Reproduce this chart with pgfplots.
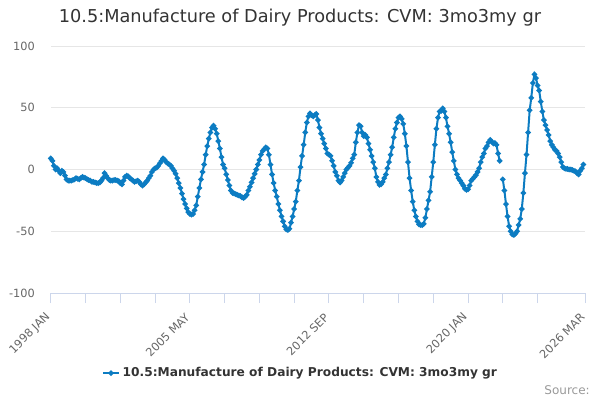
\documentclass[border=0pt]{standalone}
\usepackage{pgfplots}
\pgfplotsset{compat=1.18}
\usepackage{fontspec}
\setmainfont{DejaVu Sans}
\definecolor{linecol}{HTML}{0C7CC2}
\definecolor{gridcol}{HTML}{E6E6E6}
\definecolor{axiscol}{HTML}{CCD6EB}
\definecolor{titlecol}{HTML}{333333}
\definecolor{tickcol}{HTML}{666666}
\definecolor{srccol}{HTML}{999999}
\begin{document}
\begin{tikzpicture}
\path[use as bounding box] (0,0) rectangle (450pt,300pt);
\node[font=\fontsize{13.3pt}{15pt}\selectfont, text=titlecol] at (225pt,286.5pt) {10.5:Manufacture of Dairy Products: CVM: 3mo3my gr};
\node[font=\fontsize{9pt}{10pt}\selectfont, text=srccol, anchor=east, inner sep=0pt] at (442.5pt,7.5pt) {Source:};
\begin{axis}[
  at={(38.1pt,80.25pt)}, anchor=south west,
  scale only axis, width=400.65pt, height=185.25pt,
  xmin=0, xmax=338, ymin=-100, ymax=100,
  axis x line*=bottom, axis y line*=left,
  x axis line style={draw=axiscol, line width=0.75pt, -},
  y axis line style={draw=none},
  ytick={-100,-50,0,50,100},
  ytick style={draw=none},
  ymajorgrids, grid style={draw=gridcol, line width=0.75pt},
  xtick={0,88,176,264,338},
  xticklabels={1998 JAN,2005 MAY,2012 SEP,2020 JAN,2026 MAR},
  extra x ticks={22,44,66,110,132,154,198,220,242,286,308},
  extra x tick labels={},
  extra x tick style={grid=none},
  xtick style={draw=axiscol, line width=0.75pt},
  tick align=outside, major tick length=7.5pt,
  /pgf/number format/assume math mode=true,
  yticklabel style={font=\fontsize{8.5pt}{10pt}\selectfont, text=tickcol, anchor=east, xshift=-1pt},
  xticklabel style={font=\fontsize{8.5pt}{10pt}\selectfont, text=tickcol, xshift=0.6pt, yshift=-6.75pt, rotate=45, anchor=east},
  unbounded coords=jump,
  clip=false,
  legend style={at={(0.468,-0.324)}, anchor=center, draw=none, fill=none,
    font=\fontsize{9.15pt}{10pt}\selectfont\bfseries, text=titlecol},
  legend image code/.code={\draw[mark repeat=2,mark phase=2,line width=1.5pt] plot coordinates {(0pt,0pt)(6pt,0pt)(12pt,0pt)};},
]
\addplot[color=linecol, line width=1.5pt, mark=*, mark size=1.2pt, mark options={fill=linecol, draw=linecol}] table[x=m, y=v] {
m v
0 9
1 7
2 3
3 0
4 1
5 -1
6 -3
7 -1
8 -2
9 -5
10 -8
11 -9
12 -9
13 -9
14 -8.5
15 -8
16 -7
17 -7.5
18 -8
19 -7
20 -6
21 -6.5
22 -7
23 -8
24 -8.5
25 -9
26 -10
27 -10
28 -10.5
29 -11
30 -11
31 -10.5
32 -9
33 -7
34 -3
35 -5
36 -7
37 -8.5
38 -9
39 -9
40 -8.5
41 -8.5
42 -9
43 -9.5
44 -11
45 -12
46 -9
47 -6
48 -5
49 -5.5
50 -7
51 -8
52 -9
53 -10
54 -9.5
55 -9
56 -10
57 -12
58 -13
59 -12
60 -10.5
61 -9
62 -7
63 -5
64 -2
65 0
66 1
67 1.5
68 3
69 5
70 7
71 9
72 8
73 6
74 5
75 4
76 3
77 1
78 -1
79 -3.5
80 -7
81 -11
82 -15
83 -19.5
84 -24
85 -28
86 -31.5
87 -34.5
88 -36
89 -36.5
90 -36
91 -33
92 -29
93 -22
94 -15
95 -8
96 -2
97 4
98 12
99 19
100 25
101 30
102 34
103 35.5
104 33
105 29
106 23
107 17
108 10
109 4
110 1
111 -4
112 -8.5
113 -13
114 -17
115 -19
116 -19.5
117 -20
118 -20.5
119 -21
120 -21.5
121 -22.5
122 -23
123 -22
124 -20.5
125 -17
126 -14
127 -10.5
128 -7
129 -3.5
130 0
131 4
132 7.7
133 12
134 15
135 16.5
136 18
137 17
138 12
139 4
140 -4
141 -11
142 -17
143 -22
144 -28
145 -33
146 -38
147 -42
148 -46
149 -48.5
150 -49
151 -48
152 -43
153 -38
154 -32
155 -26
156 -17
157 -9
158 2
159 11
160 20
161 30
162 38
163 43
164 45.5
165 44
166 43
167 44
168 45
169 40
170 34
171 29
172 25
173 21
174 17
175 13
176 12
177 11
178 7
179 3
180 -2
181 -5
182 -9
183 -10.5
184 -9
185 -6
186 -3
187 0
188 1.5
189 3
190 5.5
191 9
192 12
193 22
194 30
195 36
196 35
197 30
198 27
199 28
200 26
201 21
202 16
203 11
204 6
205 1
206 -6
207 -10
208 -12.5
209 -12
210 -10
211 -7
212 -4
213 1
214 6
215 12
216 18
217 26
218 33
219 38
220 42
221 43
222 41
223 37
224 29
225 19
226 6
227 -7
228 -17
229 -26
230 -33
231 -38
232 -42
233 -44.5
234 -45
235 -45
236 -44
237 -39
238 -32
239 -25
240 -18
241 -6
242 6
243 20
244 33
245 42
246 47
247 47.5
248 49.5
249 47
250 42
251 35
252 29
253 22
254 14
255 7
256 0
257 -4
258 -7
259 -9
260 -11
261 -13
262 -15.5
263 -16.5
264 -16
265 -13
266 -9
267 -7.5
268 -6
269 -4.5
270 -2
271 1
272 6
273 10
274 13
275 17
276 19
277 22
278 24
279 22.5
280 21
281 21.5
282 20
283 13
284 7
285 nan
286 -8
287 -17
288 -28
289 -38
290 -46
291 -50
292 -52.5
293 -53
294 -52
295 -50
296 -45
297 -40
298 -32
299 -19
300 -3
301 12
302 30
303 48
304 58
305 70
306 77
307 74
308 68
309 64
310 55
311 47
312 40
313 36
314 32
315 28
316 23
317 20
318 18
319 16
320 15
321 13
322 10
323 6
324 2
325 1
326 0.5
327 0.5
328 0
329 0
330 -0.5
331 -1
332 -1.5
333 -3
334 -4
335 -1
336 1
337 4
};
\addlegendentry{10.5:Manufacture of Dairy Products: CVM: 3mo3my gr}
\end{axis}
\end{tikzpicture}
\end{document}
